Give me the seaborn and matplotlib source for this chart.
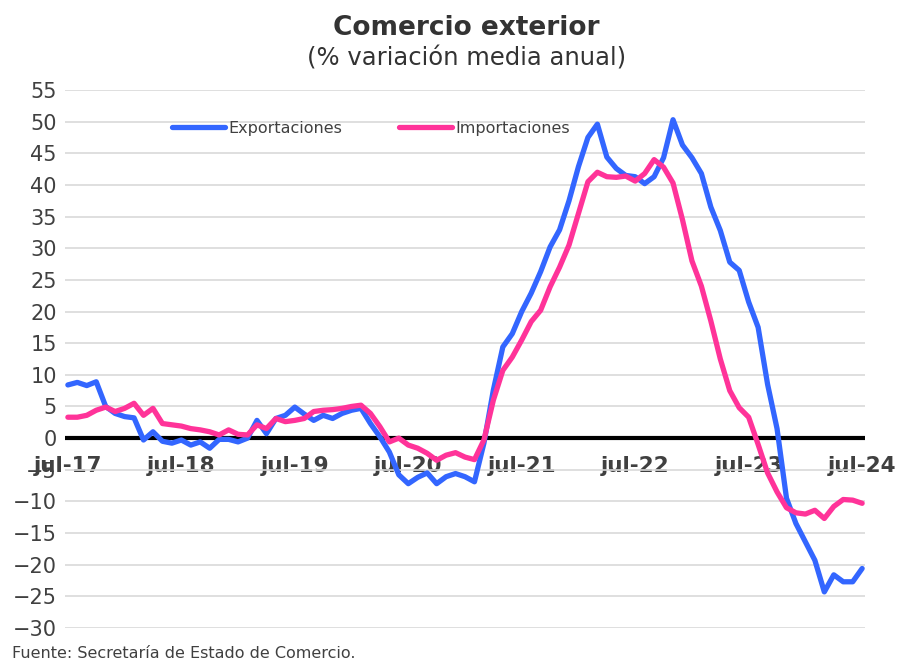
import pandas as pd
import matplotlib.pyplot as plt
import seaborn as sns

# ---------------------------------------------
# Data: % variación media anual, monthly jul-17 .. jul-24
# ---------------------------------------------
exportaciones = [
    8.4, 8.8, 8.3, 8.9, 5.0, 3.9, 3.4, 3.2, -0.3, 1.0, -0.5, -0.8,
    -0.3, -1.1, -0.6, -1.6, -0.2, -0.2, -0.6, 0.0, 2.8, 0.7, 3.1, 3.6,
    4.9, 3.8, 2.8, 3.6, 3.1, 3.9, 4.4, 4.7, 2.3, 0.2, -2.2, -5.8,
    -7.2, -6.2, -5.5, -7.2, -6.1, -5.6, -6.1, -6.9, -0.8, 7.6, 14.4, 16.5,
    20.0, 22.9, 26.3, 30.2, 32.9, 37.5, 42.9, 47.5, 49.6, 44.4, 42.6, 41.5,
    41.3, 40.2, 41.3, 44.3, 50.3, 46.3, 44.3, 41.8, 36.5, 32.8, 27.8, 26.5,
    21.5, 17.5, 8.5, 1.5, -9.5, -13.5, -16.4, -19.3, -24.3, -21.6, -22.7, -22.7,
    -20.6,
]
importaciones = [
    3.3, 3.3, 3.6, 4.4, 4.9, 4.2, 4.7, 5.5, 3.6, 4.7, 2.3, 2.1,
    1.9, 1.5, 1.3, 1.0, 0.5, 1.3, 0.6, 0.5, 2.1, 1.5, 3.1, 2.6,
    2.8, 3.1, 4.2, 4.4, 4.5, 4.7, 5.0, 5.2, 3.9, 1.8, -0.6, 0.0,
    -1.1, -1.6, -2.4, -3.5, -2.7, -2.3, -3.0, -3.4, -0.3, 6.0, 10.7, 12.8,
    15.5, 18.4, 20.2, 23.9, 27.0, 30.5, 35.5, 40.5, 42.0, 41.3, 41.2, 41.4,
    40.6, 41.8, 44.0, 42.8, 40.3, 34.5, 28.0, 24.0, 18.5, 12.5, 7.5, 4.8,
    3.3, -1.0, -5.5, -8.5, -11.0, -11.8, -12.0, -11.4, -12.7, -10.8, -9.7, -9.8,
    -10.3,
]
tick_labels = ["jul-17", "jul-18", "jul-19", "jul-20", "jul-21", "jul-22", "jul-23", "jul-24"]

mes = list(range(len(exportaciones)))
df = pd.DataFrame({
    "mes": mes + mes,
    "valor": exportaciones + importaciones,
    "serie": ["Exportaciones"] * len(mes) + ["Importaciones"] * len(mes),
})

# ---------------------------------------------
# Plot
# ---------------------------------------------
sns.set_style("white")
plt.rcParams["font.family"] = ["DejaVu Sans"]

fig = plt.figure(figsize=(8.97, 6.69), dpi=100)
ax = fig.add_axes([0.0725, 0.0613, 0.8918, 0.8042])

colores = {"Exportaciones": "#3366ff", "Importaciones": "#ff3399"}
sns.lineplot(data=df, x="mes", y="valor", hue="serie", palette=colores,
             linewidth=3.8, ax=ax, legend=False, zorder=3)
for ln in ax.get_lines():
    ln.set_solid_joinstyle("round")
    ln.set_solid_capstyle("round")

ax.axhline(0, color="black", linewidth=3, zorder=2)

ax.set_ylim(-30, 55)
ax.set_yticks(range(-30, 56, 5))
ax.set_xlim(-0.3, 84.3)
ax.set_xticks(range(0, 85, 12))
ax.set_xticklabels(tick_labels)
ax.grid(axis="y", color="#d9d9d9", linewidth=1.2)
ax.grid(axis="x", visible=False)
for s in ax.spines.values():
    s.set_visible(False)

ax.spines["bottom"].set_position(("data", 0))
ax.tick_params(axis="x", length=0, pad=13, labelsize=15.5, labelcolor="#404040")
for lab in ax.get_xticklabels():
    lab.set_fontweight("bold")
ax.tick_params(axis="y", length=0, pad=6, labelsize=15, labelcolor="#404040")
ax.set_xlabel("")
ax.set_ylabel("")

# legend
handles = [plt.Line2D([], [], color=colores[k], linewidth=3.8,
                      solid_capstyle="round") for k in colores]
ax.legend(handles, list(colores.keys()), loc="center", ncol=2, frameon=False,
          bbox_to_anchor=(371 / 897, 1 - 128 / 669), bbox_transform=fig.transFigure,
          fontsize=11.5, handlelength=3.3, handletextpad=0.2, columnspacing=3.6,
          labelcolor="#404040")

fig.text(0.52, 0.958, "Comercio exterior", ha="center", va="center",
         fontsize=19, fontweight="bold", color="#333333")
fig.text(0.52, 0.912, "(% variación media anual)", ha="center", va="center",
         fontsize=17.5, color="#333333")
fig.text(0.013, 0.012, "Fuente: Secretaría de Estado de Comercio.", ha="left",
         va="bottom", fontsize=11.5, color="#404040")

fig.savefig("out.png", dpi=100)
